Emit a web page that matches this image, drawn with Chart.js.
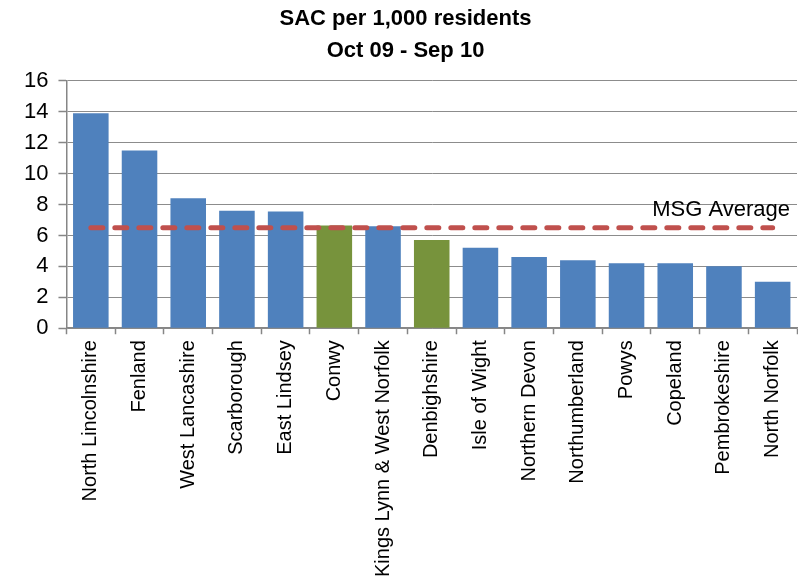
<!DOCTYPE html>
<html>
<head>
<meta charset="utf-8">
<script src="https://cdn.jsdelivr.net/npm/chart.js@4"></script>
<style>
  html, body { margin: 0; padding: 0; background: #fff; }
  #wrap { width: 798px; height: 585px; }
</style>
</head>
<body>
<div id="wrap"><canvas id="chart"></canvas></div>
<script>
const categories = ['North Lincolnshire', 'Fenland', 'West Lancashire', 'Scarborough', 'East Lindsey',
  'Conwy', 'Kings Lynn & West Norfolk', 'Denbighshire', 'Isle of Wight', 'Northern Devon',
  'Northumberland', 'Powys', 'Copeland', 'Pembrokeshire', 'North Norfolk']
const sacValues = [13.9, 11.5, 8.4, 7.6, 7.55, 6.65, 6.6, 5.7, 5.2, 4.6, 4.4, 4.2, 4.2, 4.0, 3.0]
const highlighted = ['Conwy', 'Denbighshire']
const msgAverage = 6.5
const yTicks = [0, 2, 4, 6, 8, 10, 12, 14, 16]

const blue = '#4F81BD'
const green = '#77933C'
const red = '#C0504D'
const axisGrey = '#868686'
const font = 'Liberation Sans, Arial, sans-serif'

const barColors = categories.map(c => highlighted.includes(c) ? green : blue)

const avgLabel = {
  id: 'avgLabel',
  afterDatasetsDraw(chart) {
    const { ctx, chartArea, scales } = chart
    const y = scales.y.getPixelForValue(msgAverage)
    ctx.save()
    ctx.font = '22px ' + font
    ctx.fillStyle = '#000'
    ctx.textAlign = 'right'
    ctx.textBaseline = 'bottom'
    ctx.fillText('MSG Average', chartArea.right - 7, y - 7)
    ctx.restore()
  }
}

new Chart(document.getElementById('chart'), {
  data: {
    labels: categories,
    datasets: [{
      type: 'line',
      label: 'MSG Average',
      data: categories.map(() => msgAverage),
      borderColor: red,
      borderWidth: 5,
      borderDash: [12, 12],
      borderCapStyle: 'round',
      pointRadius: 0,
      fill: false,
      order: 0
    }, {
      type: 'bar',
      label: 'SAC per 1,000 residents',
      data: sacValues,
      backgroundColor: barColors,
      categoryPercentage: 1,
      barPercentage: 0.73,
      order: 1
    }]
  },
  plugins: [avgLabel],
  options: {
    responsive: true,
    maintainAspectRatio: false,
    animation: false,
    layout: { padding: { left: 14, right: 1, top: 3, bottom: 2 } },
    plugins: {
      legend: { display: false },
      tooltip: { enabled: false },
      title: {
        display: true,
        text: ['SAC per 1,000 residents', 'Oct 09 - Sep 10'],
        color: '#000',
        font: { family: font, size: 22, weight: 'bold', lineHeight: 1.45 },
        padding: { top: 0, bottom: 14 }
      }
    },
    scales: {
      x: {
        afterFit: scale => { scale.paddingRight = 0 },
        border: { color: axisGrey, width: 1.5 },
        grid: { offset: true, drawOnChartArea: false, tickLength: 6, tickColor: axisGrey, tickWidth: 1.5 },
        ticks: {
          color: '#000',
          minRotation: 90,
          maxRotation: 90,
          autoSkip: false,
          padding: 6,
          font: { family: font, size: 20 }
        }
      },
      y: {
        min: 0,
        max: 16,
        afterBuildTicks: axis => { axis.ticks = yTicks.map(v => ({ value: v })) },
        border: { color: axisGrey, width: 1.5 },
        grid: {
          color: '#8c8c8c',
          lineWidth: 1,
          borderDash: [1, 2],
          tickBorderDash: [],
          tickColor: axisGrey,
          tickLength: 8,
          tickWidth: 1.5
        },
        ticks: {
          color: '#000',
          padding: 10,
          font: { family: font, size: 22 }
        }
      }
    }
  }
})
</script>
</body>
</html>
